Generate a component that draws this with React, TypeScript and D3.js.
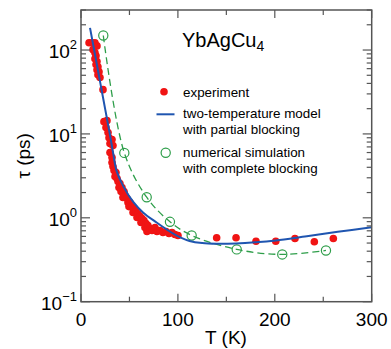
import React from "react";
import * as d3 from "d3";

// ---- data ----
const expT = [8.3, 11.4, 14.4, 16.5, 12.4, 14.4, 15.5, 14.4, 16.5, 15.5, 17.5, 16.5, 18.6, 17.5, 19.6, 22.7,
  23.7, 26.8, 25.8, 27.9, 28.9, 32, 29.9, 33, 29.9, 32, 32,
  33, 34.1, 36.1, 35.1, 37.2, 38.2, 40.2, 39.2, 42.3, 41.3, 44.4, 45.4, 43.3, 47.5, 48.5, 50.6, 49.5, 52.6,
  54.7, 53.7, 56.8, 58.8, 57.8, 60.9, 63, 61.9, 65, 67.1, 66, 69.1, 68.1, 71.2, 73.3, 76.4, 78.4, 81.5, 84.6,
  87.7, 90.8, 93.9, 97, 100.1,
  140, 160, 180.6, 201, 220.8, 240.8, 260.4];
const expTau = [122, 122, 122, 112, 101, 93, 85.5, 78.7, 73, 67, 63.2, 58.2, 55.2, 50.8, 47, 33.7,
  14.0, 14.4, 11.9, 10.4, 9.0, 8.55, 7.67, 7.26, 6.0, 5.22, 4.55,
  4.08, 3.66, 3.46, 3.1, 2.94, 2.7, 2.56, 2.3, 2.3, 2.06, 2.06, 1.84, 1.75, 1.7, 1.52, 1.52, 1.36, 1.36,
  1.29, 1.16, 1.19, 1.12, 1.01, 1.04, 0.98, 0.88, 0.93, 0.855, 0.766, 0.81, 0.687, 0.746, 0.706, 0.766, 0.687, 0.706, 0.668,
  0.687, 0.65, 0.668, 0.632, 0.615,
  0.578, 0.578, 0.526, 0.526, 0.567, 0.518, 0.567];

const modelT = [9.3, 15, 20, 25, 30, 33.3, 36.8, 43.3, 53.7, 64, 78, 95, 103, 112, 125, 140, 160, 180, 201, 233, 265, 300];
const modelTau = [184, 82, 40, 19.6, 9.6, 5.8, 3.6, 2.42, 1.56, 1.16, 0.88, 0.65, 0.58, 0.53, 0.5, 0.49, 0.494, 0.51, 0.537, 0.604, 0.68, 0.773];

const simT = [23, 44.7, 67.8, 91.8, 114.2, 160.7, 207.7, 252.8];
const simTau = [149, 5.94, 1.76, 0.896, 0.616, 0.42, 0.366, 0.408];

const xTickValues = [0, 100, 200, 300];
const xMinorValues = [50, 150, 250];
const yMajorExps = [-1, 0, 1, 2];

const legendLabels = [
  ["experiment"],
  ["two-temperature model", "with partial blocking"],
  ["numerical simulation", "with complete blocking"],
];

const RED = "#f01414";
const BLUE = "#1f55b0";
const GREEN = "#2e9e4a";
const FRAME = "#555";
const FONT = "Liberation Sans, Arial, Helvetica, sans-serif";

export default function App() {
  const W = 391, H = 349;
  const L = 81, R = 371.7, T = 10, B = 301.7;
  const x = d3.scaleLinear().domain([0, 300]).range([L, R]);
  const y = d3.scaleLog().domain([0.1, 300]).range([B, T]);

  const yTicks = y.ticks();
  const isMajor = (v: number) => Math.abs(Math.log10(v) - Math.round(Math.log10(v))) < 1e-6;

  const model = modelT.map((t, i) => [t, modelTau[i]] as [number, number]);
  const sim = simT.map((t, i) => [t, simTau[i]] as [number, number]);
  const line = d3.line<[number, number]>().x(d => x(d[0])).y(d => y(d[1])).curve(d3.curveCatmullRom.alpha(0.5));

  return (
    <svg width={W} height={H} style={{ position: "absolute", left: 0, top: 0 }} fontFamily={FONT}>
      <rect x={0} y={0} width={W} height={H} fill="white" />
      <defs>
        <clipPath id="plot">
          <rect x={L} y={T} width={R - L} height={B - T} />
        </clipPath>
      </defs>
      <g clipPath="url(#plot)">
        {expT.map((t, i) => (
          <circle key={i} cx={x(t)} cy={y(expTau[i])} r={3.8} fill={RED} />
        ))}
        <path d={line(sim) || ""} fill="none" stroke={GREEN} strokeWidth={1.3} strokeDasharray="7,4" />
        {sim.map((d, i) => (
          <circle key={i} cx={x(d[0])} cy={y(d[1])} r={4.6} fill="none" stroke={GREEN} strokeWidth={1.2} />
        ))}
        <path d={line(model) || ""} fill="none" stroke={BLUE} strokeWidth={2} />
      </g>

      {/* ticks */}
      <g stroke={FRAME} strokeWidth={1.2}>
        {yTicks.map((v, i) => {
          const len = isMajor(v) ? 9 : 5;
          return (
            <g key={i}>
              <line x1={L} x2={L + len} y1={y(v)} y2={y(v)} />
              <line x1={R} x2={R - len} y1={y(v)} y2={y(v)} />
            </g>
          );
        })}
        {xTickValues.map((v, i) => (
          <g key={"M" + i}>
            <line x1={x(v)} x2={x(v)} y1={B} y2={B - 8} />
            <line x1={x(v)} x2={x(v)} y1={T} y2={T + 8} />
          </g>
        ))}
        {xMinorValues.map((v, i) => (
          <g key={"m" + i}>
            <line x1={x(v)} x2={x(v)} y1={B} y2={B - 5} />
            <line x1={x(v)} x2={x(v)} y1={T} y2={T + 5} />
          </g>
        ))}
      </g>
      <rect x={L} y={T} width={R - L} height={B - T} fill="none" stroke={FRAME} strokeWidth={1.5} />

      {/* tick labels */}
      {xTickValues.map((v, i) => (
        <text key={i} x={x(v)} y={326} textAnchor="middle" fontSize={19} fill="#000">{v}</text>
      ))}
      {yMajorExps.map((e, i) => (
        <text key={i} x={77} y={y(Math.pow(10, e)) + 8} textAnchor="end" fontSize={19} fill="#000">
          10<tspan dy={-9} fontSize={13}>{e < 0 ? "\u2212" + Math.abs(e) : e}</tspan>
        </text>
      ))}

      {/* axis titles */}
      <text x={226} y={344} textAnchor="middle" fontSize={19}>T (K)</text>
      <text transform={`translate(30,${(T + B) / 2}) rotate(-90)`} textAnchor="middle" fontSize={19}>τ (ps)</text>

      {/* title */}
      <text x={182} y={46.5} fontSize={20}>YbAgCu<tspan dy={4} fontSize={14}>4</tspan></text>

      {/* legend */}
      <circle cx={164} cy={91.7} r={3.8} fill={RED} />
      <text x={183} y={96.5} fontSize={13.4}>{legendLabels[0][0]}</text>
      <line x1={156.5} x2={174.5} y1={114.3} y2={114.3} stroke={BLUE} strokeWidth={2} />
      <text x={183} y={118} fontSize={13.4}>{legendLabels[1][0]}</text>
      <text x={183} y={133.5} fontSize={13.4}>{legendLabels[1][1]}</text>
      <circle cx={165.7} cy={152.7} r={4.6} fill="none" stroke={GREEN} strokeWidth={1.2} />
      <text x={183} y={157} fontSize={13.4}>{legendLabels[2][0]}</text>
      <text x={183} y={172.5} fontSize={13.4}>{legendLabels[2][1]}</text>
    </svg>
  );
}
